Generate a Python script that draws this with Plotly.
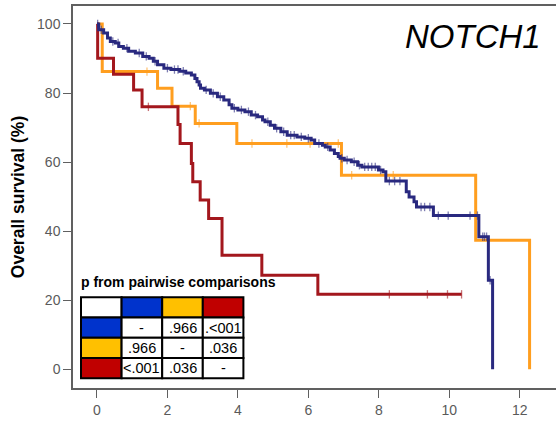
import numpy as np
import plotly.graph_objects as go

# ---------------- data ----------------
blue_times = [0.0, 0.05, 0.19, 0.30, 0.38, 0.52, 0.62, 0.75, 0.90, 1.09, 1.30, 1.48, 1.60, 1.72,
              1.90, 2.10, 2.35, 2.52, 2.68, 2.78, 2.84, 2.90, 2.94, 3.05, 3.22, 3.42, 3.60, 3.75,
              3.83, 4.00, 4.20, 4.38, 4.56, 4.70, 4.77, 4.92, 5.04, 5.22, 5.40, 5.68, 5.90, 6.08,
              6.18, 6.40, 6.48, 6.62, 6.74, 6.85, 6.90, 7.02, 7.22, 7.40, 7.52, 7.99, 8.12, 8.20,
              8.78, 8.86, 9.00, 9.07, 9.55, 10.84, 11.11, 11.23]
blue_surv = [100, 98.3, 97.4, 95.9, 94.9, 94.5, 93.5, 93.0, 92.1, 91.6, 90.6, 90.1, 89.2, 88.2,
             87.2, 86.8, 86.3, 85.8, 85.2, 84.2, 83.3, 82.3, 81.4, 80.9, 79.9, 78.9, 78.0, 76.6,
             75.6, 75.1, 74.6, 73.6, 73.1, 72.2, 71.7, 70.7, 69.8, 68.8, 67.8, 67.3, 66.9, 66.4,
             65.4, 64.9, 64.4, 63.5, 62.5, 61.6, 61.1, 60.6, 60.1, 59.1, 58.6, 57.7, 57.2, 54.5,
             51.4, 49.9, 48.5, 47.0, 44.5, 38.4, 25.8, 0.0]
blue_censor = [0.02, 0.12, 0.45, 0.6, 0.85, 1.2, 1.4, 1.65, 2.0, 2.2, 2.3, 2.45, 3.1, 3.3, 3.5,
               3.9, 4.1, 4.3, 4.5, 4.85, 5.1, 5.3, 5.5, 5.6, 5.8, 6.0, 6.3, 6.55, 6.95, 7.1, 7.3,
               7.45, 7.6, 7.7, 7.8, 7.9, 8.05, 8.3, 8.45, 8.6, 9.2, 9.3, 9.45, 9.69, 9.97, 10.59,
               10.8, 10.95, 11.0, 11.06, 11.16]

orange_times = [0.0, 0.15, 1.72, 2.13, 2.79, 3.97, 6.94, 10.75, 12.28]
orange_surv = [100, 86.2, 81.4, 76.2, 71.2, 65.4, 56.2, 37.4, 0.0]
orange_censor = [1.42, 2.65, 2.90, 4.40, 5.39, 6.05, 6.85, 7.23, 8.41]

red_times = [0.0, 0.02, 0.47, 1.04, 1.28, 2.30, 2.36, 2.68, 2.72, 2.93, 3.17, 3.55, 4.68, 6.27]
red_surv = [100, 90.1, 85.4, 80.9, 76.0, 70.9, 65.4, 59.6, 54.3, 49.0, 43.7, 33.0, 27.2, 21.7]
red_end = 10.35
red_censor = [1.46, 8.30, 9.38, 9.95, 10.35]

x_ticks = [0, 2, 4, 6, 8, 10, 12]
y_ticks = [0, 20, 40, 60, 80, 100]

table_colors = ["#0033CC", "#FFC000", "#C00000"]
table_values = [["-", ".966", ".<001"],
                [".966", "-", ".036"],
                ["<.001", ".036", "-"]]

# ---------------- figure ----------------
W, H = 556, 421
ML, MR, MT, MB = 73, 0, 6, 33

col_blue = "#29297F"
col_orange = "#FF9E1F"
col_red = "#A3171D"


def level_at(times, surv, t):
    i = np.searchsorted(np.asarray(times), t, side="right") - 1
    return float(np.asarray(surv)[max(i, 0)])


fig = go.Figure()


def add_curve(times, surv, censor, color, end=None):
    xs = list(times)
    ys = list(surv)
    if end is not None:
        xs.append(end)
        ys.append(surv[-1])
    fig.add_trace(go.Scatter(x=xs, y=ys, mode="lines", line=dict(color=color, width=3, shape="hv"),
                             showlegend=False, hoverinfo="skip"))
    cy = [level_at(times, surv, t) for t in censor]
    fig.add_trace(go.Scatter(x=censor, y=cy, mode="markers",
                             marker=dict(symbol="line-ns", size=6, line=dict(color=color, width=1.3),
                                         opacity=0.6),
                             showlegend=False, hoverinfo="skip"))


add_curve(orange_times, orange_surv, orange_censor, col_orange)
add_curve(red_times, red_surv, red_censor, col_red, end=red_end)
add_curve(blue_times, blue_surv, blue_censor, col_blue)

axis_col = "#606060"
font_fam = "Liberation Sans, Arial, sans-serif"

fig.update_layout(
    width=W, height=H,
    margin=dict(l=ML, r=MR, t=MT, b=MB, pad=0),
    paper_bgcolor="white", plot_bgcolor="white",
    font=dict(family=font_fam),
    xaxis=dict(range=[-0.68, 13.03], tickvals=x_ticks, showgrid=False, zeroline=False,
               showline=True, linecolor=axis_col, linewidth=1.5, mirror=True,
               ticks="outside", ticklen=8, tickwidth=1.2, tickcolor=axis_col,
               tickfont=dict(size=14, color="#5a5a5a", family=font_fam)),
    yaxis=dict(range=[-5.42, 105.2], tickvals=y_ticks, showgrid=False, zeroline=False,
               showline=True, linecolor=axis_col, linewidth=1.5,
               ticks="outside", ticklen=8, tickwidth=1.2, tickcolor=axis_col,
               tickfont=dict(size=14, color="#5a5a5a", family=font_fam),
               title=dict(text="<b>Overall survival (%)</b>", standoff=8,
                          font=dict(size=17.5, color="black", family=font_fam))),
)


def px_x(p):
    return (p - ML) / (W - ML - MR)


def px_y(p):
    return (H - MB - p) / (H - MT - MB)


# title
fig.add_annotation(text="<i>NOTCH1</i>", xref="paper", yref="paper", x=px_x(543), y=px_y(36),
                   xanchor="right", yanchor="middle", showarrow=False,
                   font=dict(size=33, color="black", family=font_fam))

# pairwise table
fig.add_annotation(text="<b>p from pairwise comparisons</b>", xref="paper", yref="paper",
                   x=px_x(79), y=px_y(282), xanchor="left", yanchor="middle", showarrow=False,
                   font=dict(size=14, color="black", family=font_fam))

tx0, ty0, cw, ch = 81.0, 297.3, 40.6, 20.25
row_header = ["white"] + table_colors
for r in range(4):
    for c in range(4):
        if r == 0:
            fill = row_header[c]
        elif c == 0:
            fill = table_colors[r - 1]
        else:
            fill = "white"
        x0, x1 = tx0 + c * cw, tx0 + (c + 1) * cw
        y0, y1 = ty0 + r * ch, ty0 + (r + 1) * ch
        fig.add_shape(type="rect", xref="paper", yref="paper",
                      x0=px_x(x0), x1=px_x(x1), y0=px_y(y1), y1=px_y(y0),
                      fillcolor=fill, line=dict(color="black", width=2), layer="above")
        if r > 0 and c > 0:
            fig.add_annotation(text=table_values[r - 1][c - 1], xref="paper", yref="paper",
                               x=px_x((x0 + x1) / 2), y=px_y((y0 + y1) / 2),
                               xanchor="center", yanchor="middle", showarrow=False,
                               font=dict(size=14.5, color="black", family=font_fam))

fig.write_html("out.html")
